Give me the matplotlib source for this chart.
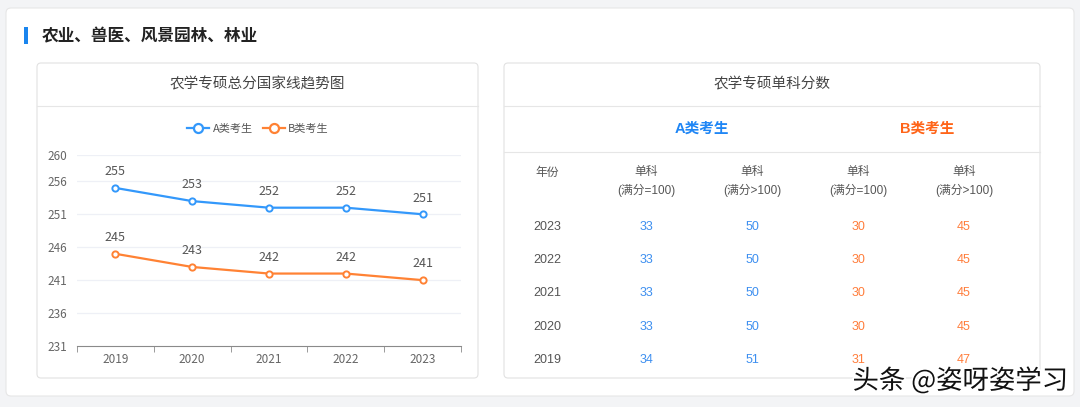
import matplotlib.pyplot as plt
from matplotlib.patches import FancyBboxPatch, Rectangle
from matplotlib.lines import Line2D
import matplotlib.patheffects as pe

plt.rcParams['font.family'] = ['Noto Sans CJK SC', 'DejaVu Sans']

years = ['2019', '2020', '2021', '2022', '2023']
a_total = [255, 253, 252, 252, 251]
b_total = [245, 243, 242, 242, 241]
y_ticks = [231, 236, 241, 246, 251, 256, 260]

table_years = ['2023', '2022', '2021', '2020', '2019']
a_eq100 = [33, 33, 33, 33, 34]
a_gt100 = [50, 50, 50, 50, 51]
b_eq100 = [30, 30, 30, 30, 31]
b_gt100 = [45, 45, 45, 45, 47]

BLUE = '#3398fb'
ORANGE = '#ff8234'
TBLUE = '#3d8ff0'
TORANGE = '#ff7d3b'
W, H = 1080, 407
NUMFONT = ['Liberation Sans', 'Noto Sans CJK SC']

fig = plt.figure(figsize=(W / 100, H / 100), dpi=100)
fig.patch.set_facecolor('#f3f4f6')
bg = fig.add_axes([0, 0, 1, 1])
bg.set_xlim(0, W)
bg.set_ylim(H, 0)
bg.axis('off')

# outer white panel
bg.add_patch(FancyBboxPatch((6, 8), 1068, 388, boxstyle='round,pad=0,rounding_size=5',
                            fc='white', ec='#e6e6e6', lw=0.8))
bg.add_patch(Rectangle((24, 27), 4, 17, fc='#1a85ee', ec='none'))
bg.text(42, 36, '农业、兽医、风景园林、林业', fontsize=12, fontweight='bold',
        color='#222222', va='center', ha='left')

# cards
for x0, w in [(37, 441), (504, 536)]:
    bg.add_patch(FancyBboxPatch((x0, 63), w, 315, boxstyle='round,pad=0,rounding_size=4',
                                fc='white', ec='#e2e2e2', lw=0.8))
    bg.plot([x0, x0 + w], [106, 106], color='#e6e6e6', lw=0.8)
bg.text(257, 84, '农学专硕总分国家线趋势图', fontsize=10.5, color='#444444', ha='center', va='center')
bg.text(772, 84, '农学专硕单科分数', fontsize=10.5, color='#444444', ha='center', va='center')

# table
bg.plot([504, 1040], [152, 152], color='#e6e6e6', lw=0.8)
bg.text(702, 129, 'A类考生', fontsize=10.5, fontweight='bold', color='#1f86f5', ha='center', va='center',
        family=['Liberation Sans', 'Noto Sans CJK SC'])
bg.text(927, 129, 'B类考生', fontsize=10.5, fontweight='bold', color='#ff6418', ha='center', va='center',
        family=['Liberation Sans', 'Noto Sans CJK SC'])
col_x = [547, 646, 752, 858, 964]
bg.text(col_x[0], 172, '年份', fontsize=8.5, color='#555555', ha='center', va='center')
for cx, sub in zip(col_x[1:], ['(满分=100)', '(满分>100)', '(满分=100)', '(满分>100)']):
    bg.text(cx, 172, '单科', fontsize=8.5, color='#555555', ha='center', va='center')
    bg.text(cx, 190, sub, fontsize=8.5, color='#555555', ha='center', va='center', family=NUMFONT)
row_y = [227, 260, 293, 327, 360]
for i, ry in enumerate(row_y):
    kw = dict(fontsize=9, ha='center', va='center', family=NUMFONT)
    bg.text(col_x[0], ry, table_years[i], color='#555555', **kw)
    bg.text(col_x[1], ry, str(a_eq100[i]), color=TBLUE, **kw)
    bg.text(col_x[2], ry, str(a_gt100[i]), color=TBLUE, **kw)
    bg.text(col_x[3], ry, str(b_eq100[i]), color=TORANGE, **kw)
    bg.text(col_x[4], ry, str(b_gt100[i]), color=TORANGE, **kw)

# line chart
left, right, top, bottom = 77, 461, 155, 346
ax = fig.add_axes([left / W, 1 - bottom / H, (right - left) / W, (bottom - top) / H])
ax.set_facecolor('none')
x = list(range(len(years)))
for vals, c in [(a_total, BLUE), (b_total, ORANGE)]:
    ax.plot(x, vals, color=c, lw=1.6, marker='o', ms=4.5, mfc='white', mec=c, mew=1.4, zorder=3)
    for xi, v in zip(x, vals):
        ax.annotate(str(v), (xi, v), xytext=(0, 7), textcoords='offset points',
                    ha='center', va='bottom', fontsize=9, color='#555555')
ax.set_xlim(-0.5, len(years) - 0.5)
ax.set_ylim(231, 260)
ax.set_yticks(y_ticks)
ax.set_xticks(x)
ax.set_xticklabels(years)
ax.set_xticks([i - 0.5 for i in range(len(years) + 1)], minor=True)
for t in y_ticks[1:]:
    ax.axhline(t, color='#eef0f6', lw=0.9, zorder=0)
for s in ['top', 'right', 'left']:
    ax.spines[s].set_visible(False)
ax.spines['bottom'].set_color('#8a8a8a')
ax.tick_params(axis='y', length=0, labelsize=8.5, labelcolor='#666666', pad=7)
ax.tick_params(axis='x', which='major', length=0, labelsize=8.5, labelcolor='#666666', pad=5)
ax.tick_params(axis='x', which='minor', length=4, color='#8a8a8a')

handles = [Line2D([], [], color=BLUE, lw=1.6, marker='o', ms=6.5, mfc='white', mec=BLUE, mew=1.6),
           Line2D([], [], color=ORANGE, lw=1.6, marker='o', ms=6.5, mfc='white', mec=ORANGE, mew=1.6)]
fig.legend(handles, ['A类考生', 'B类考生'], loc='center', bbox_to_anchor=(258 / W, 1 - 129 / H),
           ncol=2, frameon=False, fontsize=8, handlelength=2.0, handletextpad=0.3,
           columnspacing=0.9, labelcolor='#555555')

# watermark
bg.text(1068, 381, '头条 @姿呀姿学习', fontsize=19, color='#111111', ha='right', va='center',
        path_effects=[pe.withStroke(linewidth=2.5, foreground='white')])

fig.savefig('out.png', dpi=100)
